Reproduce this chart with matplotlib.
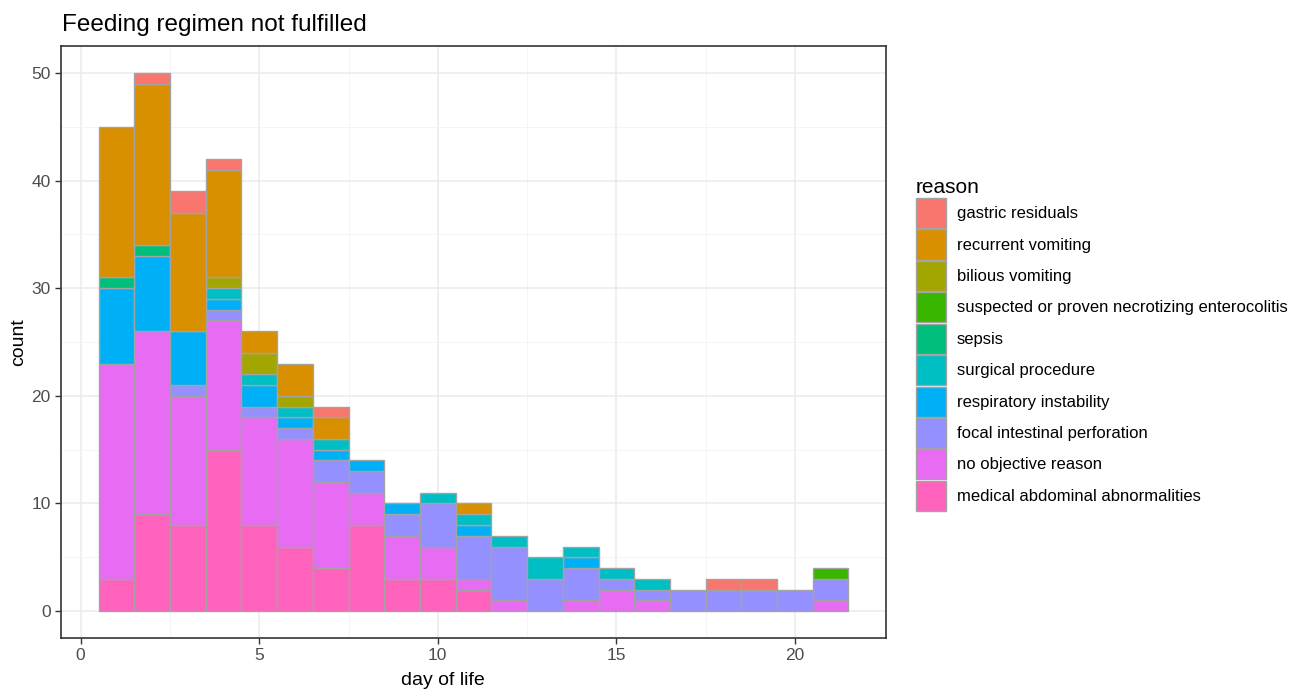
import numpy as np
import matplotlib
matplotlib.use("Agg")
import matplotlib.pyplot as plt
from matplotlib.patches import Patch

plt.rcParams['font.family'] = ['Liberation Sans', 'DejaVu Sans']

days = list(range(1, 22))

# stacked from the bottom up (ggplot stacks last factor level at the bottom)
reasons = [
    "gastric residuals",
    "recurrent vomiting",
    "bilious vomiting",
    "suspected or proven necrotizing enterocolitis",
    "sepsis",
    "surgical procedure",
    "respiratory instability",
    "focal intestinal perforation",
    "no objective reason",
    "medical abdominal abnormalities",
]
colors = ["#F8766D", "#D89000", "#A3A500", "#39B600", "#00BF7D",
          "#00BFC4", "#00B0F6", "#9590FF", "#E76BF3", "#FF62BC"]

# counts per day (days 1..21)
medical    = [3, 9, 8, 15, 8, 6, 4, 8, 3, 3, 2, 0, 0, 0, 0, 0, 0, 0, 0, 0, 0]
no_reason  = [20, 17, 12, 12, 10, 10, 8, 3, 4, 3, 1, 1, 0, 1, 2, 1, 0, 0, 0, 0, 1]
focal      = [0, 0, 1, 1, 1, 1, 2, 2, 2, 4, 4, 5, 3, 3, 1, 1, 2, 2, 2, 2, 2]
respir     = [7, 7, 5, 1, 2, 1, 1, 1, 1, 0, 1, 0, 0, 1, 0, 0, 0, 0, 0, 0, 0]
surgical   = [0, 0, 0, 1, 1, 1, 1, 0, 0, 1, 1, 1, 2, 1, 1, 1, 0, 0, 0, 0, 0]
sepsis     = [1, 1, 0, 0, 0, 0, 0, 0, 0, 0, 0, 0, 0, 0, 0, 0, 0, 0, 0, 0, 0]
nec        = [0, 0, 0, 0, 0, 0, 0, 0, 0, 0, 0, 0, 0, 0, 0, 0, 0, 0, 0, 0, 1]
bilious    = [0, 0, 0, 1, 2, 1, 0, 0, 0, 0, 0, 0, 0, 0, 0, 0, 0, 0, 0, 0, 0]
recurrent  = [14, 15, 11, 10, 2, 3, 2, 0, 0, 0, 1, 0, 0, 0, 0, 0, 0, 0, 0, 0, 0]
gastric    = [0, 1, 2, 1, 0, 0, 1, 0, 0, 0, 0, 0, 0, 0, 0, 0, 0, 1, 1, 0, 0]

series = [gastric, recurrent, bilious, nec, sepsis, surgical,
          respir, focal, no_reason, medical]

fig = plt.figure(figsize=(12.9, 6.89), dpi=100)
ax = fig.add_axes([61 / 1290, 1 - 638 / 689, 825 / 1290, 592 / 689])

bottom = np.zeros(len(days))
for vals, col in zip(reversed(series), reversed(colors)):
    vals = np.array(vals)
    mask = vals > 0
    ax.bar(np.array(days)[mask], vals[mask], width=1, bottom=bottom[mask],
           color=col, edgecolor="#a3a3a3", linewidth=1, zorder=3)
    bottom += vals

ax.set_xlim(-0.55, 22.55)
ax.set_ylim(-2.5, 52.5)
ax.set_xticks([0, 5, 10, 15, 20])
ax.set_yticks([0, 10, 20, 30, 40, 50])
ax.set_xticks([2.5, 7.5, 12.5, 17.5], minor=True)
ax.set_yticks([5, 15, 25, 35, 45], minor=True)
ax.grid(True, which="major", color="#ebebeb", linewidth=1.1, zorder=0)
ax.grid(True, which="minor", color="#f2f2f2", linewidth=0.6, zorder=0)
ax.tick_params(which="major", length=4, width=1, color="#333333",
               labelsize=12.5, labelcolor="#4d4d4d")
ax.tick_params(which="minor", length=0)
for sp in ax.spines.values():
    sp.set_color("#333333")
    sp.set_linewidth(1.2)

ax.set_xlabel("day of life", fontsize=14, color="black")
ax.xaxis.set_label_coords((443 - 61) / 825, -0.057)
ax.set_ylabel("count", fontsize=14, color="black")
ax.yaxis.set_label_coords(-0.041, 0.5)

fig.text(62 / 1290, 1 - 31 / 689, "Feeding regimen not fulfilled",
         fontsize=17.5, color="black", ha="left", va="baseline")

handles = [Patch(facecolor=c, edgecolor="#a3a3a3", linewidth=1) for c in colors]
leg = fig.legend(handles, reasons, loc="upper left",
                 bbox_to_anchor=(909 / 1290, 1 - 171 / 689),
                 title="reason", title_fontsize=15, fontsize=12,
                 frameon=False, handlelength=1.8, handleheight=2.4,
                 handletextpad=0.66, labelspacing=0.08, borderaxespad=0)
leg._legend_box.align = "left"

fig.savefig("out.png", dpi=100)
